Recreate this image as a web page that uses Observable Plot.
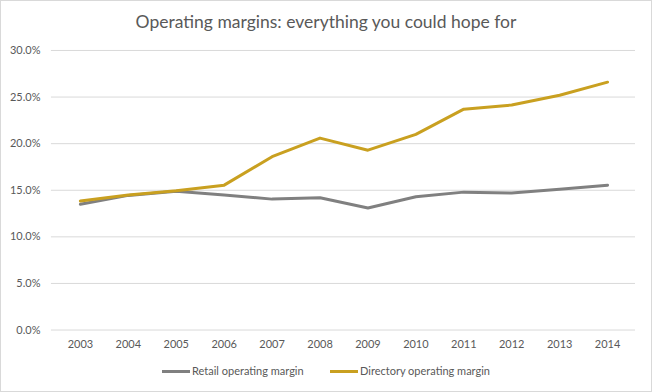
<!DOCTYPE html>
<html>
<head>
<meta charset="utf-8">
<script src="https://cdn.jsdelivr.net/npm/d3@7"></script>
<script src="https://cdn.jsdelivr.net/npm/@observablehq/plot@0.6"></script>
<style>
  html, body { margin: 0; padding: 0; background: #fff; }
  #chart {
    position: relative; width: 650px; height: 390px;
    border: 1px solid #d9d9d9; background: #fff;
    font-family: Lato, "Open Sans", sans-serif; color: #595959;
    overflow: hidden;
  }
  #title {
    position: absolute; left: 0; top: 8px; width: 650px; text-align: center;
    font-size: 17.5px; font-weight: 400; color: #595959; line-height: 26px;
  }
  #plot { position: absolute; left: -1px; top: 39px; }
  #legend {
    position: absolute; left: 0; top: 362px; width: 650px;
    font-size: 11px; color: #595959; line-height: 16px;
  }
  .item { position: absolute; top: 0; display: flex; align-items: center; }
  .sw { display: inline-block; width: 28px; height: 3px; margin-right: 2px; }
</style>
</head>
<body>
<div id="chart">
  <div id="title">Operating margins: everything you could hope for</div>
  <div id="plot"></div>
  <div id="legend"></div>
</div>
<script>
const years = ["2003","2004","2005","2006","2007","2008","2009","2010","2011","2012","2013","2014"];
const retail = [13.5, 14.45, 14.9, 14.5, 14.05, 14.2, 13.1, 14.3, 14.8, 14.7, 15.1, 15.55];
const directory = [13.85, 14.5, 14.95, 15.55, 18.6, 20.6, 19.3, 21.0, 23.7, 24.15, 25.2, 26.6];
const seriesNames = ["Retail operating margin", "Directory operating margin"];
const seriesColors = ["#808080", "#C9A020"];
const yTicks = [0, 5, 10, 15, 20, 25, 30];

const rows = [];
years.forEach((y, i) => {
  rows.push({year: y, value: retail[i], series: seriesNames[0]});
  rows.push({year: y, value: directory[i], series: seriesNames[1]});
});

const plot = Plot.plot({
  width: 652,
  height: 319,
  marginLeft: 51,
  marginRight: 16,
  marginTop: 10,
  marginBottom: 29,
  style: {fontFamily: "Lato, 'Open Sans', sans-serif", fontSize: "11px", color: "#595959", background: "transparent"},
  x: {type: "point", domain: years, padding: 0.5, label: null, tickSize: 0, tickPadding: 10},
  y: {domain: [0, 30], ticks: yTicks, label: null, tickSize: 0, tickPadding: 11,
      tickFormat: d => d.toFixed(1) + "%"},
  color: {domain: seriesNames, range: seriesColors},
  marks: [
    Plot.gridY(yTicks, {stroke: "#d9d9d9", strokeOpacity: 1, strokeWidth: 1}),
    Plot.axisX({tickSize: 0, tickPadding: 10, fill: "#595959"}),
    Plot.axisY({ticks: yTicks, tickSize: 0, tickPadding: 11, fill: "#595959", tickFormat: d => d.toFixed(1) + "%"}),
    Plot.line(rows.filter(d => d.series === seriesNames[0]), {x: "year", y: "value", stroke: "series", strokeWidth: 3, strokeLinejoin: "round", strokeLinecap: "round"}),
    Plot.line(rows.filter(d => d.series === seriesNames[1]), {x: "year", y: "value", stroke: "series", strokeWidth: 3, strokeLinejoin: "round", strokeLinecap: "round"})
  ]
});
document.getElementById("plot").appendChild(plot);

const legend = document.getElementById("legend");
const lefts = [161, 329];
seriesNames.forEach((n, i) => {
  const it = document.createElement("div");
  it.className = "item";
  it.style.left = lefts[i] + "px";
  it.innerHTML = `<span class="sw" style="background:${seriesColors[i]}"></span><span>${n}</span>`;
  legend.appendChild(it);
});
</script>
</body>
</html>
